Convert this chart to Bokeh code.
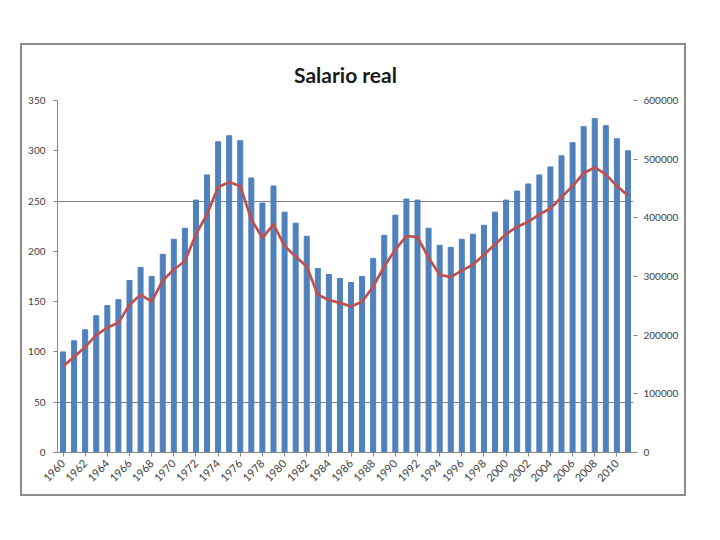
import math
from bokeh.plotting import figure
from bokeh.models import Range1d, LinearAxis, FixedTicker, ColumnDataSource, BasicTickFormatter
from bokeh.embed import file_html
from bokeh.resources import INLINE

years = list(range(1960, 2012))
salario = [100, 111, 122, 136, 146, 152, 171, 184, 175, 197,
           212, 223, 251, 276, 309, 315, 310, 273, 248, 265,
           239, 228, 215, 183, 177, 173, 169, 175, 193, 216,
           236, 252, 251, 223, 206, 204, 212, 217, 226, 239,
           251, 260, 267, 276, 284, 295, 308, 324, 332, 325,
           312, 300]
serie_derecha = [147000, 163000, 180000, 200000, 213000, 221000, 252000, 269000, 257000, 293000,
                 312000, 326000, 372000, 406000, 452000, 461000, 454000, 397000, 366000, 389000,
                 352000, 334000, 317000, 269000, 260000, 255000, 249000, 257000, 283000, 317000,
                 346000, 369000, 367000, 332000, 303000, 299000, 310000, 320000, 337000, 355000,
                 372000, 385000, 393000, 406000, 416000, 435000, 454000, 476000, 486000, 474000,
                 454000, 438000]
left_ticks = [0, 50, 100, 150, 200, 250, 300, 350]
right_ticks = [0, 100000, 200000, 300000, 400000, 500000, 600000]
label_years = list(range(1960, 2011, 2))

FONT = "Lato"
TXT = "#404040"

src = ColumnDataSource(dict(x=years, s=salario, r=serie_derecha))

p = figure(width=666, height=453, output_backend="svg", toolbar_location=None,
           x_range=Range1d(1959.5, 2011.5), y_range=Range1d(0, 350),
           min_border_left=35, min_border_right=55, min_border_top=55, min_border_bottom=46,
           title="Salario real")
p.margin = (43, 0, 0, 20)
p.styles = {"border": "2px solid #8c8c8c"}
p.outline_line_color = None
p.background_fill_color = "white"
p.border_fill_color = "white"

p.title.align = "center"
p.title.text_font = FONT
p.title.text_font_style = "bold"
p.title.text_font_size = "21px"
p.title.text_color = "#1a1a1a"
p.title.standoff = 28

p.extra_y_ranges = {"right": Range1d(0, 600000)}

p.vbar(x="x", top="s", width=0.45, source=src, color="#4F81BD")
p.line(x="x", y="r", source=src, y_range_name="right", line_color="#C0504D",
       line_width=2.7, line_join="round")

# grid
p.xgrid.visible = False
p.ygrid.ticker = FixedTicker(ticks=[50, 250])
p.ygrid.grid_line_color = "#808080"
p.ygrid.grid_line_width = 1

# left axis
ya = p.yaxis[0]
ya.ticker = FixedTicker(ticks=left_ticks)
ya.axis_line_color = "#868686"
ya.major_tick_line_color = "#868686"
ya.major_tick_out = 4
ya.major_tick_in = 0
ya.minor_tick_line_color = None
ya.major_label_text_font = FONT
ya.major_label_text_font_size = "10px"
ya.major_label_text_color = TXT
ya.major_label_standoff = 8

# right axis
ra = LinearAxis(y_range_name="right", ticker=FixedTicker(ticks=right_ticks),
                formatter=BasicTickFormatter(use_scientific=False))
ra.axis_line_color = None
ra.major_tick_line_color = "#868686"
ra.major_tick_out = 4
ra.major_tick_in = 0
ra.minor_tick_line_color = None
ra.major_label_text_font = FONT
ra.major_label_text_font_size = "10px"
ra.major_label_text_color = TXT
ra.major_label_standoff = 6
p.add_layout(ra, "right")

# x axis
xa = p.xaxis[0]
xa.ticker = FixedTicker(ticks=label_years)
xa.major_label_orientation = 0.8
xa.axis_line_color = "#868686"
xa.major_tick_line_color = "#868686"
xa.major_tick_out = 4
xa.major_tick_in = 0
xa.minor_tick_line_color = None
xa.major_label_text_font = FONT
xa.major_label_text_font_size = "11px"
xa.major_label_text_color = TXT
xa.major_label_standoff = 5

open("out.html", "w").write(file_html(p, INLINE))
